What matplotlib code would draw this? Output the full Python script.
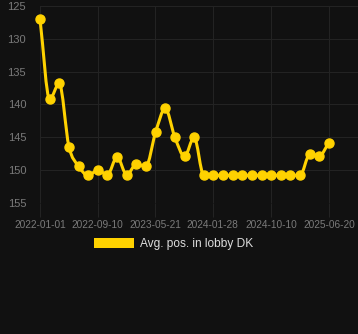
import matplotlib
matplotlib.use("Agg")
import matplotlib.pyplot as plt
import matplotlib.dates as mdates
from matplotlib.path import Path
from matplotlib.patches import PathPatch, Patch
import numpy as np
import pandas as pd

plt.rcParams['font.family'] = ['Liberation Sans', 'DejaVu Sans']

# data
first_date = "2022-01-01"
last_date = "2025-06-20"
positions = [127.0, 139.2, 136.8, 146.4, 149.4, 150.8, 150.0, 150.7, 148.0, 150.7,
             149.1, 149.4, 144.2, 140.6, 145.0, 147.9, 145.0,
             150.8, 150.8, 150.8, 150.8, 150.8, 150.8, 150.8, 150.8, 150.8, 150.8, 150.8,
             147.6, 147.8, 145.8]
tick_labels = ["2022-01-01", "2022-09-10", "2023-05-21", "2024-01-28", "2024-10-10", "2025-06-20"]
y_ticks = [125, 130, 135, 140, 145, 150, 155]
series_name = "Avg. pos. in lobby DK"

BG = "#111111"
GRID = "#232323"
GOLD = "#ffd200"
TICKC = "#7a7a7a"

dates = pd.date_range(first_date, last_date, periods=len(positions))
x = mdates.date2num(dates.to_pydatetime())
y = np.array(positions)


def monotone_path(x, y):
    # Fritsch-Carlson monotone cubic, as bezier segments
    n = len(x)
    h = np.diff(x)
    d = np.diff(y) / h
    m = np.zeros(n)
    m[0], m[-1] = d[0], d[-1]
    for i in range(1, n - 1):
        if d[i - 1] * d[i] <= 0:
            m[i] = 0
        else:
            m[i] = (d[i - 1] + d[i]) / 2
    for i in range(n - 1):
        if d[i] == 0:
            m[i] = m[i + 1] = 0
            continue
        a, b = m[i] / d[i], m[i + 1] / d[i]
        s = a * a + b * b
        if s > 9:
            t = 3 / np.sqrt(s)
            m[i], m[i + 1] = t * a * d[i], t * b * d[i]
    verts = [(x[0], y[0])]
    codes = [Path.MOVETO]
    for i in range(n - 1):
        dx = h[i] / 3
        verts += [(x[i] + dx, y[i] + m[i] * dx), (x[i + 1] - dx, y[i + 1] - m[i + 1] * dx), (x[i + 1], y[i + 1])]
        codes += [Path.CURVE4] * 3
    return Path(verts, codes)


fig = plt.figure(figsize=(3.58, 3.34), dpi=100, facecolor=BG)
ax = fig.add_axes([40 / 358, 1 - 203 / 334, 1 - 40 / 358, 197 / 334])
ax.set_facecolor(BG)

ax.add_patch(PathPatch(monotone_path(x, y), facecolor="none", edgecolor=GOLD, lw=2.2,
                       zorder=3, clip_on=False))
ax.plot(x, y, "o", color=GOLD, markersize=6.5, zorder=4, clip_on=False)

ax.set_xlim(x[0], x[-1] + 127)
ax.set_ylim(155, 125)
ax.set_yticks(y_ticks)
tick_pos = mdates.date2num(pd.to_datetime(tick_labels).to_pydatetime())
ax.set_xticks(tick_pos)
ax.set_xticklabels(tick_labels)

ax.grid(True, color=GRID, lw=0.8)
for s in ax.spines.values():
    s.set_visible(False)
ax.tick_params(axis="x", colors=GRID, length=10, width=0.8, labelcolor=TICKC, labelsize=7.3, pad=2)
ax.tick_params(axis="y", length=0, labelcolor=TICKC, labelsize=8, pad=10)

handle = Patch(facecolor=GOLD, edgecolor="none")
fig.legend([handle], [series_name], loc="center", bbox_to_anchor=(0.485, 0.269),
           frameon=False, fontsize=8.6, labelcolor="#dddddd",
           handlelength=3.4, handleheight=0.92, handletextpad=0.5, borderpad=0)

fig.savefig("out.png", dpi=100, facecolor=BG)
